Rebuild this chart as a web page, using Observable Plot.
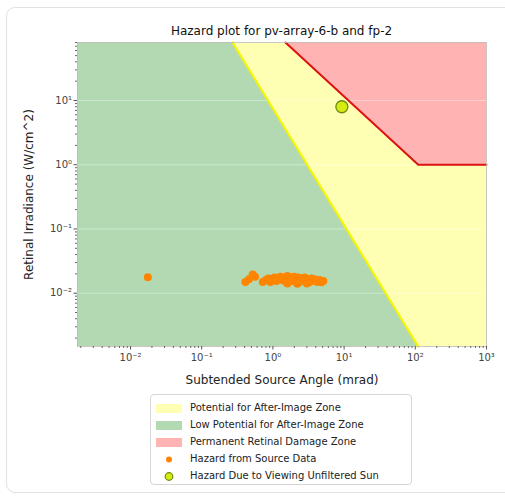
<!DOCTYPE html>
<html><head><meta charset="utf-8">
<script src="https://cdn.jsdelivr.net/npm/d3@7"></script>
<script src="https://cdn.jsdelivr.net/npm/@observablehq/plot@0.6"></script>
<style>
body{margin:0;background:#fff;font-family:"DejaVu Sans",sans-serif;width:505px;height:499px;overflow:hidden;position:relative;}
#card{position:absolute;left:6px;top:7px;width:530px;height:486px;border:1px solid #e2e2e2;border-radius:9px;box-sizing:border-box;}
#title{position:absolute;left:77px;width:409px;top:23px;line-height:16px;text-align:center;font-size:12px;color:#111;}
#chart{position:absolute;left:0;top:0;}
#legend{position:absolute;left:150px;top:394px;width:262px;height:91px;border:1px solid #d6d6d6;border-radius:4px;box-sizing:border-box;background:#fff;}
.row{position:absolute;left:0;height:17px;width:100%;}
.row .sw{position:absolute;left:5px;top:4px;width:26px;height:9px;}
.row svg{position:absolute;left:5px;top:0;}
.row span{position:absolute;left:39px;top:1px;font-size:10px;line-height:14px;color:#222;white-space:nowrap;}
</style></head>
<body>
<div id="card"></div>
<div id="title">Hazard plot for pv-array-6-b and fp-2</div>
<div id="chart"></div>
<div id="legend"></div>
<script>
// ---- data ----
const titleText = "Hazard plot for pv-array-6-b and fp-2";
const xLabel = "Subtended Source Angle (mrad)";
const yLabel = "Retinal Irradiance (W/cm^2)";
const xDomain = [0.0018, 1000];
const yDomain = [0.00148, 80];
const xMajor = [0.01, 0.1, 1, 10, 100, 1000];
const yMajor = [0.01, 0.1, 1, 10];
// boundary between low-potential and potential after-image zones
const afterImageX = [0.271, 110];
const afterImageY = [80, 0.00148];
// retinal burn threshold
const burnX = [1.5, 110, 1000];
const burnY = [80, 1, 1];
// hazard from source data
const sourceX = [0.0175, 0.41, 0.46, 0.52, 0.56, 0.72, 0.80, 0.86, 0.92, 1.00, 1.05, 1.12, 1.20, 1.28, 1.35, 1.45, 1.52, 1.60, 1.70, 1.80, 1.90, 2.00, 2.10, 2.25, 2.35, 2.50, 2.65, 2.80, 2.95, 3.10, 3.30, 3.50, 3.70, 3.95, 4.20, 4.50, 4.80, 5.10, 2.20, 1.60, 3.00];
const sourceY = [0.0177, 0.0150, 0.0165, 0.0195, 0.0180, 0.0150, 0.0160, 0.0170, 0.0150, 0.0165, 0.0175, 0.0155, 0.0170, 0.0180, 0.0160, 0.0175, 0.0150, 0.0185, 0.0165, 0.0175, 0.0155, 0.0180, 0.0165, 0.0175, 0.0150, 0.0170, 0.0160, 0.0175, 0.0155, 0.0165, 0.0150, 0.0170, 0.0158, 0.0163, 0.0150, 0.0160, 0.0148, 0.0155, 0.0140, 0.0142, 0.0142];
// hazard due to viewing unfiltered sun
const sunX = [9.3];
const sunY = [8.0];
const legendLabels = ["Potential for After-Image Zone", "Low Potential for After-Image Zone", "Permanent Retinal Damage Zone", "Hazard from Source Data", "Hazard Due to Viewing Unfiltered Sun"];
const legendKinds = ["patch", "patch", "patch", "dot", "sun"];

// ---- styles ----
const cYellow = "#ffffb3", cGreen = "#b3d9b3", cRed = "#ffb3b3";
const cOrange = "#ff8500", cSunFill = "#d4ec10", cSunStroke = "#6e8a12";
const legendColors = [cYellow, cGreen, cRed, cOrange, cSunFill];

const supMap = {"-":"⁻","0":"⁰","1":"¹","2":"²","3":"³","4":"⁴","5":"⁵","6":"⁶","7":"⁷","8":"⁸","9":"⁹"};
const sup = v => "10" + String(Math.round(Math.log10(v))).split("").map(c => supMap[c]).join("");

const xMinor = d3.scaleLog().domain(xDomain).ticks().filter(v => Math.abs(Math.log10(v) - Math.round(Math.log10(v))) > 1e-6);
const yMinor = d3.scaleLog().domain(yDomain).ticks().filter(v => Math.abs(Math.log10(v) - Math.round(Math.log10(v))) > 1e-6);

const greenArea = [
  {x: xDomain[0], y1: yDomain[0], y2: yDomain[1]},
  {x: afterImageX[0], y1: yDomain[0], y2: afterImageY[0]},
  {x: afterImageX[1], y1: yDomain[0], y2: afterImageY[1]}
];
const redArea = burnX.map((x, i) => ({x, y1: burnY[i], y2: yDomain[1]}));
const afterLine = afterImageX.map((x, i) => ({x, y: afterImageY[i]}));
const burnLine = burnX.map((x, i) => ({x, y: burnY[i]}));
const source = sourceX.map((x, i) => ({x, y: sourceY[i]}));
const sun = sunX.map((x, i) => ({x, y: sunY[i]}));

const chart = Plot.plot({
  width: 505, height: 395,
  marginLeft: 77, marginRight: 19, marginTop: 42, marginBottom: 49,
  style: {fontFamily: "DejaVu Sans", fontSize: "10px", color: "#222", background: "transparent"},
  x: {type: "log", domain: xDomain},
  y: {type: "log", domain: yDomain},
  marks: [
    Plot.frame({fill: cYellow}),
    Plot.areaY(greenArea, {x: "x", y1: "y1", y2: "y2", fill: cGreen}),
    Plot.areaY(redArea, {x: "x", y1: "y1", y2: "y2", fill: cRed}),
    Plot.ruleY(yMajor, {stroke: "#ffffff", strokeOpacity: 0.35}),
    Plot.line(afterLine, {x: "x", y: "y", stroke: "#f5f500", strokeWidth: 2.2}),
    Plot.line(burnLine, {x: "x", y: "y", stroke: "#dd1111", strokeWidth: 2}),
    Plot.dot(source, {x: "x", y: "y", r: 4, fill: cOrange}),
    Plot.dot(sun, {x: "x", y: "y", r: 6, fill: cSunFill, stroke: cSunStroke, strokeWidth: 1.3}),
    Plot.frame({stroke: "#bbb", strokeWidth: 0.8}),
    Plot.axisX(xMinor, {tickSize: 2, tickFormat: () => "", label: null, stroke: "#666"}),
    Plot.axisY(yMinor, {tickSize: 2, tickFormat: () => "", label: null, stroke: "#666"}),
    Plot.axisX(xMajor, {tickSize: 3.5, tickPadding: 4, tickFormat: sup, label: null, stroke: "#555", fill: "#444"}),
    Plot.axisY(yMajor, {tickSize: 3.5, tickPadding: 2, tickFormat: sup, label: null, stroke: "#555", fill: "#444"}),
    Plot.text([xLabel], {frameAnchor: "bottom", dy: 37, fontSize: 12, fill: "#222"}),
    Plot.text([yLabel], {frameAnchor: "left", textAnchor: "middle", dx: -48, rotate: -90, fontSize: 12, fill: "#222"})
  ]
});
document.getElementById("chart").appendChild(chart);
document.getElementById("title").textContent = titleText;

// ---- legend ----
const leg = document.getElementById("legend");
legendLabels.forEach((lab, i) => {
  const row = document.createElement("div");
  row.className = "row";
  row.style.top = (5 + i * 17) + "px";
  const k = legendKinds[i];
  if (k === "patch") {
    const sw = document.createElement("div");
    sw.className = "sw"; sw.style.background = legendColors[i];
    row.appendChild(sw);
  } else {
    const ns = "http://www.w3.org/2000/svg";
    const svg = document.createElementNS(ns, "svg");
    svg.setAttribute("width", 26); svg.setAttribute("height", 17);
    const c = document.createElementNS(ns, "circle");
    c.setAttribute("cx", 13); c.setAttribute("cy", 8.5);
    c.setAttribute("r", k === "dot" ? 3 : 3.8);
    c.setAttribute("fill", legendColors[i]);
    if (k === "sun") { c.setAttribute("stroke", cSunStroke); c.setAttribute("stroke-width", 1.2); }
    svg.appendChild(c);
    row.appendChild(svg);
  }
  const sp = document.createElement("span");
  sp.textContent = lab;
  row.appendChild(sp);
  leg.appendChild(row);
});
</script>
</body></html>
